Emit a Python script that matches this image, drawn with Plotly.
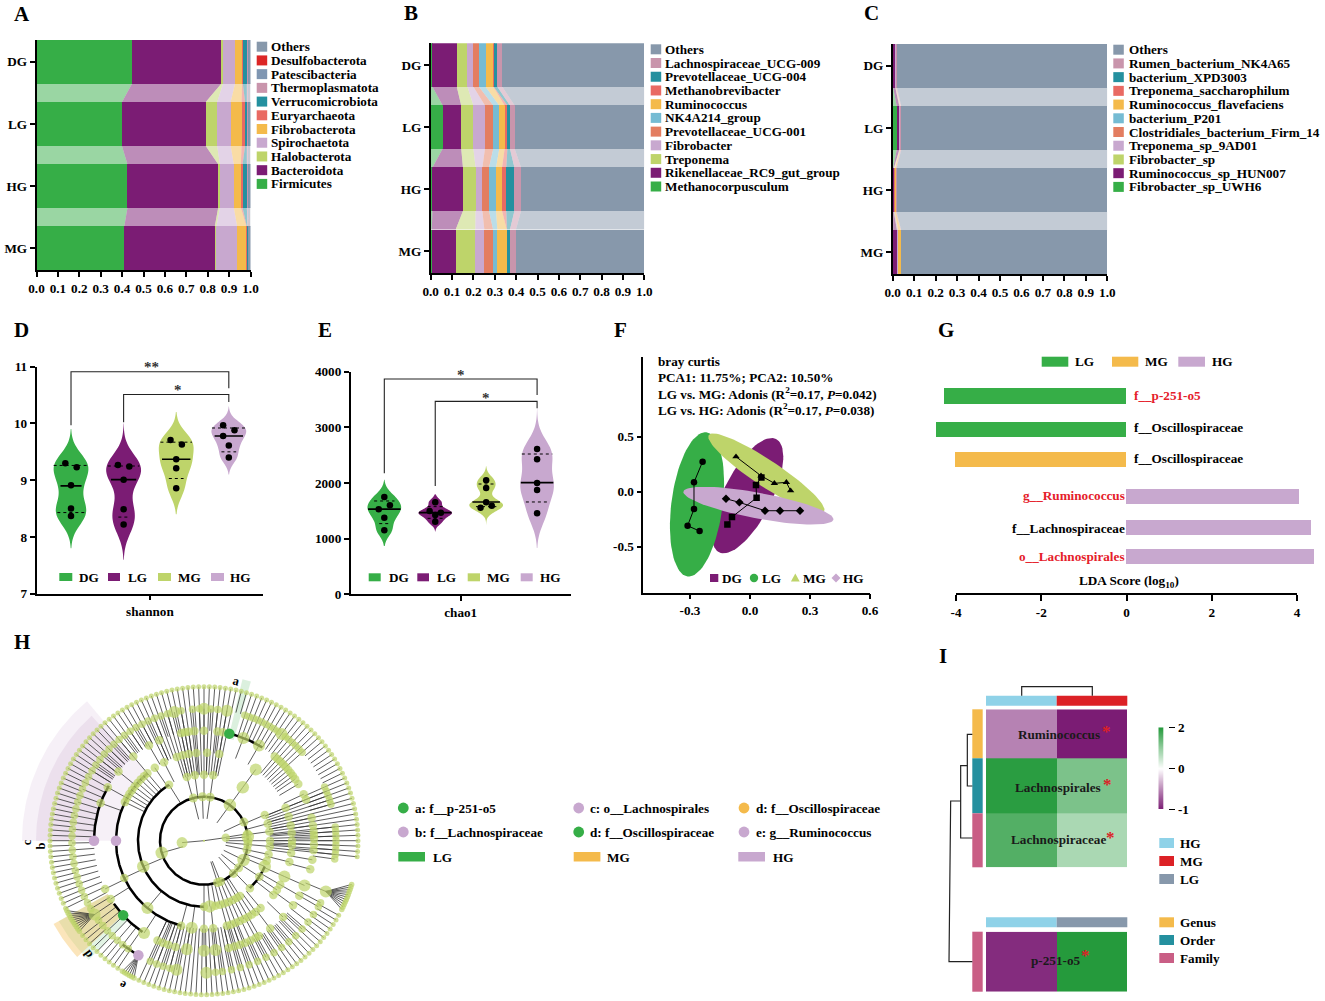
import numpy as np
import plotly.graph_objects as go

# ------------------------------------------------------------------ data
GROUPS = ["DG", "LG", "HG", "MG"]

A_NAMES = ["Firmicutes", "Bacteroidota", "Halobacterota", "Spirochaetota", "Fibrobacterota", "Euryarchaeota",
           "Verrucomicrobiota", "Thermoplasmatota", "Patescibacteria", "Desulfobacterota", "Others"]
A_FIRMICUTES = [.447, .399, .425, .410]
A_BACTEROIDOTA = [.417, .391, .424, .423]
A_HALOBACTEROTA = [.008, .054, .008, .008]
A_SPIROCHAETOTA = [.056, .063, .065, .097]
A_FIBROBACTEROTA = [.033, .051, .033, .043]
A_EURYARCHAEOTA = [.003, .017, .008, .002]
A_VERRUCO = [.019, .008, .020, .003]
A_THERMO = [.006, .006, .006, .003]
A_PATESCI = [.005, .005, .005, .003]
A_DESULFO = [.001, .001, .001, .002]
A_OTHERS = [.005, .005, .005, .006]

B_NAMES = ["Methanocorpusculum", "Rikenellaceae_RC9_gut_group", "Treponema", "Fibrobacter", "Prevotellaceae_UCG-001",
           "NK4A214_group", "Ruminococcus", "Methanobrevibacter", "Prevotellaceae_UCG-004", "Lachnospiraceae_UCG-009", "Others"]
B_METHANOCORP = [.008, .056, .008, .005]
B_RIKEN = [.114, .087, .143, .112]
B_TREPONEMA = [.050, .057, .059, .092]
B_FIBROBACTER = [.028, .054, .032, .042]
B_PREV001 = [.026, .039, .031, .041]
B_NK4A = [.031, .028, .033, .020]
B_RUMINO = [.036, .025, .028, .044]
B_METHANOBREV = [.002, .013, .020, .001]
B_PREV004 = [.017, .012, .038, .014]
B_LACHNO = [.023, .022, .031, .028]
B_OTHERS = [.665, .607, .577, .601]

C_NAMES = ["Fibrobacter_sp_UWH6", "Ruminococcus_sp_HUN007", "Fibrobacter_sp", "Treponema_sp_9AD01",
           "Clostridiales_bacterium_Firm_14", "bacterium_P201", "Ruminococcus_flavefaciens", "Treponema_saccharophilum",
           "bacterium_XPD3003", "Rumen_bacterium_NK4A65", "Others"]
C_UWH6 = [.002, .019, .002, .002]
C_HUN007 = [.010, .012, .003, .018]
C_FIBSP = [.001, .001, .002, .001]
C_9AD01 = [.002, .002, .002, .003]
C_FIRM14 = [.000, .000, .001, .001]
C_P201 = [.000, .000, .000, .001]
C_FLAVE = [.001, .002, .005, .012]
C_SACCH = [.000, .001, .001, .000]
C_XPD = [.000, .000, .000, .000]
C_NK4A65 = [.004, .003, .002, .002]
C_OTHERS = [.980, .960, .982, .960]

VIOLIN_GROUPS = ["DG", "LG", "MG", "HG"]
D_DG = [9.30, 9.23, 8.91, 8.50, 8.37]
D_LG = [9.27, 9.24, 9.01, 8.49, 8.22]
D_MG = [9.71, 9.63, 9.37, 9.21, 8.86]
D_HG = [9.97, 9.88, 9.78, 9.61, 9.40]
D_MED = [8.90, 9.01, 9.37, 9.78]
D_Q1 = [8.43, 8.35, 9.03, 9.50]
D_Q3 = [9.26, 9.25, 9.67, 9.92]

E_DG = [1749, 1599, 1527, 1377, 1150]
E_LG = [1653, 1497, 1467, 1425, 1305]
E_MG = [2048, 1910, 1653, 1593, 1557]
E_HG = [2611, 2425, 2000, 1874, 1455]
E_MED = [1530, 1467, 1659, 2006]
E_Q1 = [1270, 1365, 1575, 1659]
E_Q3 = [1677, 1575, 1982, 2521]

F_DG_X = [.057, .030, .033, -.090, -.113]
F_DG_Y = [.130, .061, -.055, -.230, -.297]
F_LG_X = [-.237, -.280, -.280, -.312, -.252]
F_LG_Y = [.273, .085, -.158, -.309, -.358]
F_MG_X = [-.070, .055, .122, .182, .203]
F_MG_Y = [.318, .145, .076, .085, .009]
F_HG_X = [-.120, -.053, .075, .150, .250]
F_HG_Y = [-.064, -.097, -.173, -.173, -.173]
# ellipse: centre, first and second conjugate semi-axis
F_ELL_DG = [(-.012, -.036), (.142, .515), (.108, -.098)]
F_ELL_LG = [(-.265, -.115), (.047, .655), (.127, -.030)]
F_ELL_MG = [(.082, .167), (.288, -.348), (.037, .100)]
F_ELL_HG = [(.042, -.127), (.375, -.127), (-.012, -.115)]

G_LG_LABELS = ["f__p-251-o5", "f__Oscillospiraceae"]
G_LG_VALUES = [-4.27, -4.46]
G_MG_LABELS = ["f__Oscillospiraceae"]
G_MG_VALUES = [-4.01]
G_HG_LABELS = ["g__Ruminococcus", "f__Lachnospiraceae", "o__Lachnospirales"]
G_HG_VALUES = [4.05, 4.33, 4.41]

I_ROWS = ["Ruminococcus", "Lachnospirales", "Lachnospiraceae"]
I_HG = [-0.55, 1.95, 1.58]
I_MG = [-1.0, 1.20, 0.78]
I2_ROW = ["p-251-o5"]
I2_HG = [-0.93]
I2_LG = [2.0]
I_BAR_LEVELS = [-1, -.9, -.8, -.7, -.6, -.5, -.4, -.3, -.2, -.1, 0, .2, .4, .6, .8, 1, 1.2, 1.4, 1.6, 1.8, 2]

# cladogram nodes: ring radius -> angle in degrees
H_LEAVES = [0, 2, 4, 6, 8, 10, 12, 14, 16, 18, 20, 22, 24, 26, 28, 30, 32, 34, 36, 38, 40, 42, 44, 46, 48, 50, 52, 54, 56, 58,
            60, 62, 64, 66, 68, 70, 72, 74, 76, 78, 80, 82, 84, 86, 88, 90, 92, 94, 96, 98, 100, 102, 104, 106, 108, 110, 112,
            114, 116, 118, 120, 122, 124, 126, 128, 130, 132, 134, 136, 138, 140, 142, 144, 146, 148, 150, 152, 154, 156, 158,
            160, 162, 164, 166, 168, 170, 172, 174, 176, 178, 180, 182, 184, 186, 188, 190, 192, 194, 196, 198, 200, 202, 204,
            206, 218, 220, 222, 224, 226, 228, 230, 232, 234, 236, 245, 247, 249, 251, 253, 255, 257, 259, 261, 263, 265, 267,
            269, 271, 273, 275, 277, 279, 281, 283, 285, 287, 289, 291, 293, 295, 297, 299, 301, 303, 305, 307, 309, 311, 313,
            315, 317, 319, 321, 323, 325, 327, 329, 331, 354, 356, 358]
H_SPOKE_ZONES = [(-1, 23, 66), (23, 60, 132), (60, 78, 132), (78, 108, 66), (108, 118, 88), (118, 150, 110), (150, 245, 132),
                 (245, 292, 88), (292, 320, 110), (320, 345, 132), (345, 361, 66)]
H_FANS = [(-22.6, [-26.5, -25.5, -24.5, -23.5, -22.5, -21.5, -20.5, -19.5, -18.5, -17.5, -16.5]),
          (214, [207, 208, 209, 210, 211, 212, 213, 214, 215, 216]),
          (240.2, [238, 239, 240, 241, 242, 243])]
H_R132 = [80, 84, 87, 90, 92, 95, 100, 103, 106, 109, 72, 70, 68, 66, 64, 62, 60, 58, 56, 54, 52, 50, 48, 46, 44, 42, 24, 22, 20, 18, 16,
          6, 4, 2, 0, -2, -4, -6, -8, -22.6, -28, -30, -34, -38, -42, -46, -50, -54, -58, -62, -66, -70, -74, -78, -82, -85, 271, 258, 255,
          252, 249, 246, 235, 232, 229, 226, 223, 220, 217, 214, 211, 208, 205, 202, 199, 196, 193, 190, 187, 184, 181, 178, 175, 172,
          169, 166, 163, 160, 157, 154, 151, 148, 145, 142, 139, 136, 133, 130, 127, 124, 121, 118, 115, 112]
H_R132_BIG = [103, 90, 80, 54, 271, 258, -22.6, 214]
H_R110 = [102, 100, 98, 95, 90, 83, 80, 69, 60, 50, 48, 46, 44, 42, 40, 38, 36, 34, 31, 25, 22, 12, 8, 5, 3, 1, -2, -5, -10, -15, -24, -30,
          -36, -44, 114, 120, 130, 141, 151, 160, 206, 212, 237, 245, 248, 251, 255, 261, 270, 276, 283, 286, 289, 292, 295, 298, 300, 307]
H_R110_BIG = [69, 60, -24, 237, 261, 270, 276]
H_R88 = [108, 104, 100, 95, 88, 80, 54, 117, 124, 130, 133, 136, 139, 142, 145, 148, 151, 154, 205, 230, 255, 262, 270, 276, 285, 288, 291,
         294, 297, 300, 303, 306, 310, 322, 326, 330, 336, 22, 16, 10, 5, 0, -3, -8, -14]
H_R88_BIG = [54, 230, 262, 336]
H_R66 = [105, 98, 90, 82, 54, 122, 203, -23, -33, -46, 23, 15, 8, 0, -5, -12, -18, 270, 275, 280, 284, 288, 292, 296, 300, 303]
H_R66_BIG = [54, 203, 275, -23]
H_R44 = [104, 92, 82, 54, 25, 9, 5, 0, -5, -12, -26, -38, -48, -68, -72, 196]
H_R44_BIG = [54, 196, 5, -26]
H_R22 = [8, 185]
H_R22_BIG = [185]
# highlighted nodes: ring radius, angle, colour key
H_MARKED = [(110, 76.7, "LG"), (110, 180, "HG"), (88, 180, "HG"), (110, 222.7, "LG"), (132, 240.2, "HG")]
H_ARCS = [(44, 0, 360), (66, 122, 270), (88, 130, 255), (110, 150, 180), (110, 215, 236), (110, 58, 76), (66, -46, -23), (132, 232, 240)]
H_WEDGES = [(88, 182, 130, 180, "HG", .17), (110, 168, 132, 180, "HG", .22), (105, 166, 73.6, 76.6, "LG", .18),
            (110, 166, 209, 226, "LG", .14), (110, 172, 209, 222.5, "MG", .38)]

H_LEGEND = ["a: f__p-251-o5", "b: f__Lachnospiraceae", "c: o__Lachnospirales", "d: f__Oscillospiraceae",
            "d: f__Oscillospiraceae", "e: g__Ruminococcus"]

# ------------------------------------------------------------------ style
W, H = 1325, 1001
FONT = "Liberation Serif"
FS = 13.2
GREEN, PURPLE, YGREEN, LILAC = "#36AE47", "#7B1C74", "#BED46A", "#C8A8CF"
ORANGE, SALMON, CORAL, SKY = "#F4BA4B", "#E96A63", "#E37D60", "#75BBD3"
TEAL, PINK, STEEL, RED, GREY = "#24909F", "#C995AC", "#7F96B2", "#DC2626", "#8798AB"
HCOL = {"LG": GREEN, "MG": ORANGE, "HG": LILAC}
A_COLORS = [GREEN, PURPLE, YGREEN, LILAC, ORANGE, SALMON, TEAL, PINK, STEEL, RED, GREY]
BC_COLORS = [GREEN, PURPLE, YGREEN, LILAC, CORAL, SKY, ORANGE, SALMON, TEAL, PINK, GREY]
V_COLORS = [GREEN, PURPLE, YGREEN, LILAC]

fig = go.Figure()
shapes, annots = [], []
layout = {}

def px(x): return x / W
def py(y): return 1 - y / H

def axes(n, xd, yd, xa=None, ya=None):
    base = dict(showline=True, linecolor="black", linewidth=1.5, ticks="outside", ticklen=5, tickwidth=1.5,
                tickcolor="black", zeroline=False, showgrid=False,
                tickfont=dict(family=FONT, size=FS, color="black", weight="bold"))
    s = "" if n == 1 else str(n)
    layout["xaxis" + s] = {**base, "domain": [px(xd[0]), px(xd[1])], "anchor": "y" + s, **(xa or {})}
    layout["yaxis" + s] = {**base, "domain": [py(yd[1]), py(yd[0])], "anchor": "x" + s, **(ya or {})}
    return ("x" + s, "y" + s)

HIDE = dict(visible=False)

def txt(x, y, t, size=FS, color="black", anchor="left", angle=0):
    annots.append(dict(xref="paper", yref="paper", x=px(x), y=py(y), text=t, showarrow=False, xanchor=anchor, yanchor="middle",
                       textangle=angle, borderpad=0, font=dict(family=FONT, size=size, color=color, weight="bold")))

def rect(x0, x1, y0, y1, color):
    shapes.append(dict(type="rect", xref="paper", yref="paper", x0=px(x0), x1=px(x1), y0=py(y0), y1=py(y1),
                       fillcolor=color, line=dict(width=0)))

def circ(xc, yc, r, color):
    shapes.append(dict(type="circle", xref="paper", yref="paper", x0=px(xc - r), x1=px(xc + r), y0=py(yc - r), y1=py(yc + r),
                       fillcolor=color, line=dict(width=0)))

def path(points, color=None, lw=0, close=True):
    d = "M" + " L".join(f"{px(a):.5f},{py(b):.5f}" for a, b in points) + (" Z" if close else "")
    s = dict(type="path", xref="paper", yref="paper", path=d, line=dict(width=lw, color="#222"))
    if color:
        s["fillcolor"] = color
    shapes.append(s)

def rgba(hexc, a):
    return f"rgba({int(hexc[1:3],16)},{int(hexc[3:5],16)},{int(hexc[5:7],16)},{a})"

# ------------------------------------------------------------------ A, B, C
def stacked(n, xd, yd, series, names, colors, lx, ltx, ly):
    xa, ya = axes(n, xd, yd,
                  dict(range=[0, 1], tickvals=[i / 10 for i in range(11)], ticktext=[f"{i/10:.1f}" for i in range(11)]),
                  dict(range=[3.35, -.35], tickvals=[0, 1, 2, 3], ticktext=GROUPS))
    arr = np.array(series, float)
    arr = arr / arr.sum(axis=0)
    cum = np.cumsum(arr, axis=0)
    rows = [0, 1, 2, 3]
    for j, (nm, col) in enumerate(zip(names, colors)):
        left = cum[j] - arr[j]
        right = cum[j]
        px_, py_ = [], []
        for i in rows[:-1]:
            px_ += [left[i], right[i], right[i + 1], left[i + 1], left[i], None]
            py_ += [i + .35, i + .35, i + .65, i + .65, i + .35, None]
        fig.add_trace(go.Scatter(x=px_, y=py_, mode="lines", fill="toself", fillcolor=rgba(col, .5), line=dict(width=0),
                                 xaxis=xa, yaxis=ya, showlegend=False, hoverinfo="skip"))
        fig.add_trace(go.Bar(y=rows, x=arr[j], base=left, width=.7, orientation="h", name=nm, marker=dict(color=col, line=dict(width=0)),
                             xaxis=xa, yaxis=ya, showlegend=False))
    for k, (nm, col) in enumerate(zip(names[::-1], colors[::-1])):
        y = ly + k * 13.72
        rect(lx, lx + 10.5, y - 5, y + 5, col)
        txt(ltx, y, nm)

stacked(1, (36.5, 250.5), (40, 270),
        [A_FIRMICUTES, A_BACTEROIDOTA, A_HALOBACTEROTA, A_SPIROCHAETOTA, A_FIBROBACTEROTA, A_EURYARCHAEOTA, A_VERRUCO,
         A_THERMO, A_PATESCI, A_DESULFO, A_OTHERS], A_NAMES, A_COLORS, 256.7, 270, 46.7)
stacked(2, (430.7, 644.3), (43.3, 273),
        [B_METHANOCORP, B_RIKEN, B_TREPONEMA, B_FIBROBACTER, B_PREV001, B_NK4A, B_RUMINO, B_METHANOBREV, B_PREV004, B_LACHNO, B_OTHERS],
        B_NAMES, BC_COLORS, 650.7, 664.3, 49.3)
stacked(3, (892.7, 1107.3), (44, 274),
        [C_UWH6, C_HUN007, C_FIBSP, C_9AD01, C_FIRM14, C_P201, C_FLAVE, C_SACCH, C_XPD, C_NK4A65, C_OTHERS],
        C_NAMES, BC_COLORS, 1113.3, 1127.5, 49.7)

# ------------------------------------------------------------------ D, E
def violins(n, xd, yd, xr, yr, yt, ytt, label, data, med, q1, q3, bws, spans, offs, hw, brackets):
    xa, ya = axes(n, xd, yd, dict(range=xr, tickvals=[1.5], ticktext=[label]), dict(range=yr, tickvals=yt, ticktext=ytt))
    for i, (vals, col, bw, sp) in enumerate(zip(data, V_COLORS, bws, spans)):
        fig.add_trace(go.Violin(y=vals, x0=i, name=VIOLIN_GROUPS[i], width=.66, bandwidth=bw, spanmode="manual", span=sp, points=False,
                                fillcolor=col, line=dict(width=0, color=col), opacity=1, box_visible=False, meanline_visible=False,
                                xaxis=xa, yaxis=ya, showlegend=False, hoverinfo="skip"))
    for i, vals in enumerate(data):
        for val, h_, dash, lw in ((q1[i], hw[1][i], "dot", 1), (q3[i], hw[2][i], "dot", 1), (med[i], hw[0][i], "solid", 1.6)):
            fig.add_trace(go.Scatter(x=[i - h_, i + h_], y=[val, val], mode="lines", line=dict(color="black", width=lw, dash=dash),
                                     xaxis=xa, yaxis=ya, showlegend=False, hoverinfo="skip"))
        fig.add_trace(go.Scatter(x=[i + o for o in offs[i]], y=vals, mode="markers", marker=dict(color="black", size=6.5),
                                 xaxis=xa, yaxis=ya, showlegend=False, name=VIOLIN_GROUPS[i]))
    for b in brackets:
        fig.add_trace(go.Scatter(x=[b[0], b[0], 3, 3], y=[b[1], b[2], b[2], b[3]], mode="lines", line=dict(color="#222", width=1.1),
                                 xaxis=xa, yaxis=ya, showlegend=False, hoverinfo="skip"))

O = .108
violins(4, (36.5, 263), (366.7, 593.7), [-.656, 3.65], [7, 11], [7, 8, 9, 10, 11], ["7", "8", "9", "10", "11"], "shannon",
        [D_DG, D_LG, D_MG, D_HG], D_MED, D_Q1, D_Q3, [.22, .24, .19, .12],
        [[7.8, 9.9], [7.6, 10.0], [8.4, 10.2], [9.1, 10.3]],
        [[-O, O, 0, 0, 0], [-O, O, 0, 0, 0], [-O, O, 0, 0, 0], [-O, O, -O, 0, 0]],
        ([.20, .24, .27, .27], [.26, .10, .14, .14], [.33, .30, .30, .32]),
        [(0, 9.97, 10.91, 10.62), (1, 10.02, 10.51, 10.38)])
txt(151, 366.5, "**", 15, "#333", "center")
txt(178, 390, "*", 15, "#333", "center")

O2 = .11
violins(5, (350.7, 570.7), (371.7, 594.3), [-.66, 3.66], [0, 4000], [0, 1000, 2000, 3000, 4000], ["0", "1000", "2000", "3000", "4000"], "chao1",
        [E_DG, E_LG, E_MG, E_HG], E_MED, E_Q1, E_Q3, [120, 65, 95, 240],
        [[870, 2060], [1130, 1800], [1250, 2300], [830, 3350]],
        [[0, O2, -O2, 0, 0], [0, -O2, O2, 0, 0], [0, 0, 0, O2, -O2], [0, 0, 0, 0, 0]],
        ([.32, .32, .27, .32], [.10, .15, .20, .22], [.20, .15, .15, .30]),
        [(0, 2174, 3868, 3581), (1, 1946, 3467, 3341)])
txt(461, 375, "*", 15, "#333", "center")
txt(486, 397.5, "*", 15, "#333", "center")

for (x0, x1, tx), nm, col in zip([(59.3, 72.3, 78.3), (108, 120, 126.7), (158, 171, 177), (211, 224, 229)], VIOLIN_GROUPS, V_COLORS):
    rect(x0, x1, 573, 581, col)
    txt(tx, 577, nm)
for (x0, x1, tx), nm, col in zip([(368.7, 380.7, 388), (417.3, 429, 436), (467.7, 480, 486.3), (520.7, 532.7, 539)], VIOLIN_GROUPS, V_COLORS):
    rect(x0, x1, 573.3, 581.3, col)
    txt(tx, 577.3, nm)

# ------------------------------------------------------------------ F
xa, ya = axes(6, (643.3, 870), (356.7, 592.7),
              dict(range=[-.5335, .6], tickvals=[-.3, 0, .3, .6], ticktext=["-0.3", "0.0", "0.3", "0.6"]),
              dict(range=[-.918, 1.227], tickvals=[-.5, 0, .5], ticktext=["-0.5", "0.0", "0.5"]))
T = np.radians(np.arange(0, 361, 4))
for ell, col in ((F_ELL_DG, PURPLE), (F_ELL_LG, GREEN), (F_ELL_MG, YGREEN), (F_ELL_HG, LILAC)):
    c, u, v = ell
    fig.add_trace(go.Scatter(x=c[0] + u[0] * np.cos(T) + v[0] * np.sin(T), y=c[1] + u[1] * np.cos(T) + v[1] * np.sin(T),
                             mode="lines", fill="toself", fillcolor=col, line=dict(width=0, color=col), xaxis=xa, yaxis=ya,
                             showlegend=False, hoverinfo="skip"))
for nm, xs, ys, sym in (("DG", F_DG_X, F_DG_Y, "square"), ("LG", F_LG_X, F_LG_Y, "circle"),
                        ("MG", F_MG_X, F_MG_Y, "triangle-up"), ("HG", F_HG_X, F_HG_Y, "diamond")):
    fig.add_trace(go.Scatter(x=xs, y=ys, mode="lines+markers", name=nm, line=dict(color="black", width=1),
                             marker=dict(color="black", size=6.5, symbol=sym), xaxis=xa, yaxis=ya, showlegend=False))
txt(656.7, 361.5, "bray curtis")
txt(656.7, 377.5, "PCA1: 11.75%; PCA2: 10.50%")
txt(656.7, 393.5, "LG vs. MG: Adonis (R<sup>2</sup>=0.17, <i>P</i>=0.042)")
txt(656.7, 409.5, "LG vs. HG: Adonis (R<sup>2</sup>=0.17, <i>P</i>=0.038)")
rect(710, 718.3, 574, 582, PURPLE)
txt(721, 578, "DG")
circ(754, 578, 4.2, GREEN)
txt(761, 578, "LG")
path([(795.3, 573.5), (799.7, 581.5), (790.9, 581.5)], YGREEN)
txt(802.3, 578, "MG")
path([(836, 573.5), (840.5, 578), (836, 582.5), (831.5, 578)], LILAC)
txt(842.3, 578, "HG")

# ------------------------------------------------------------------ G
U = 42.65
G_SLOTS = [0, 1.03, 1.98, 3.13, 4.09, 5.0]
xa, ya = axes(7, (930, 1320), (380, 593.3), dict(range=[(930 - 1126) / U, (1320 - 1126) / U], **HIDE),
              dict(range=[(593.3 - 396) / 32.1, (380 - 396) / 32.1], **HIDE))
for vals, labs, slots, nm, col in ((G_LG_VALUES, G_LG_LABELS, G_SLOTS[:2], "LG", GREEN),
                                   (G_MG_VALUES, G_MG_LABELS, G_SLOTS[2:3], "MG", ORANGE),
                                   (G_HG_VALUES, G_HG_LABELS, G_SLOTS[3:], "HG", LILAC)):
    fig.add_trace(go.Bar(x=vals, y=slots, orientation="h", width=.47, name=nm, marker=dict(color=col, line=dict(width=0)),
                         hovertext=labs, xaxis=xa, yaxis=ya, showlegend=False))
xa2, ya2 = axes(8, (956, 1297), (380, 593.3), dict(range=[-4, 4], tickvals=[-4, -2, 0, 2, 4], ticktext=["-4", "-2", "0", "2", "4"], ticklen=6),
                dict(range=[0, 1], **HIDE))
fig.add_trace(go.Scatter(x=[-4, 4], y=[0, 0], mode="lines", line=dict(width=0), xaxis=xa2, yaxis=ya2, showlegend=False, hoverinfo="skip"))
RED_TXT = "#E5202A"
txt(1133.3, 396, "f__p-251-o5", color=RED_TXT)
txt(1133.3, 427, "f__Oscillospiraceae")
txt(1133.3, 458, "f__Oscillospiraceae")
txt(1126, 495, "g__Ruminococcus", color=RED_TXT, anchor="right")
txt(1126, 528, "f__Lachnospiraceae", anchor="right")
txt(1126, 556.5, "o__Lachnospirales", color=RED_TXT, anchor="right")
txt(1129.3, 581.7, "LDA Score (log<sub>10</sub>)", anchor="center")
for x0, x1, tx, nm, col in ((1041.7, 1068.3, 1074, "LG", GREEN), (1112, 1138.3, 1143.7, "MG", ORANGE), (1178.3, 1205, 1211, "HG", LILAC)):
    rect(x0, x1, 356.7, 366.7, col)
    txt(tx, 361.7, nm)

# ------------------------------------------------------------------ H
xa, ya = axes(9, (14, 394), (650, 1001), dict(range=[-190, 190], **HIDE), dict(range=[-160.3, 190.7], **HIDE))
def pol(r, a):
    t = np.radians(np.asarray(a, float))
    return r * np.cos(t), r * np.sin(t)

for r0, r1, a0, a1, key, op in H_WEDGES:
    t = np.linspace(a0, a1, 40)
    x1_, y1_ = pol(r1, t)
    x0_, y0_ = pol(r0, t[::-1])
    fig.add_trace(go.Scatter(x=np.r_[x1_, x0_], y=np.r_[y1_, y0_], mode="lines", fill="toself", fillcolor=rgba(HCOL[key], op),
                             line=dict(width=0), xaxis=xa, yaxis=ya, showlegend=False, hoverinfo="skip"))
sx, sy = [], []
def seg(r0, a0, r1, a1):
    p0, p1 = pol(r0, a0), pol(r1, a1)
    sx.extend([p0[0], p1[0], None])
    sy.extend([p0[1], p1[1], None])
for a in H_LEAVES:
    b = ((a + 1) % 360) - 1
    rin = next(z[2] for z in H_SPOKE_ZONES if z[0] <= b < z[1])
    seg(rin, a, 154, a)
for par, lv in H_FANS:
    for a in lv:
        seg(132, par, 154, a)
for r, ring in ((132, H_R132), (110, H_R110), (88, H_R88), (66, H_R66), (44, H_R44), (22, H_R22)):
    for a in ring:
        seg(r - 22, a, r, a)
fig.add_trace(go.Scatter(x=sx, y=sy, mode="lines", line=dict(color="#333", width=.8), xaxis=xa, yaxis=ya, showlegend=False, hoverinfo="skip"))
ax, ay = [], []
for r, a0, a1 in H_ARCS:
    t = np.linspace(a0, a1, max(2, int(abs(a1 - a0))))
    xx, yy = pol(r, t)
    ax += list(xx) + [None]
    ay += list(yy) + [None]
fig.add_trace(go.Scatter(x=ax, y=ay, mode="lines", line=dict(color="black", width=2.5), xaxis=xa, yaxis=ya, showlegend=False, hoverinfo="skip"))
for r, ring, big, s0, s1 in ((154, H_LEAVES, [], 5, 5), (154, sum([f[1] for f in H_FANS], []), [], 5.5, 5.5),
                             (132, H_R132, H_R132_BIG, 7.5, 12), (110, H_R110, H_R110_BIG, 8.5, 12),
                             (88, H_R88, H_R88_BIG, 8.5, 12), (66, H_R66, H_R66_BIG, 8.5, 12.5), (44, H_R44, H_R44_BIG, 9, 12.5),
                             (22, H_R22, H_R22_BIG, 8.5, 11)):
    xx, yy = pol(r, ring)
    fig.add_trace(go.Scatter(x=xx, y=yy, mode="markers", marker=dict(color=YGREEN, size=[s1 if a in big else s0 for a in ring], line=dict(width=0)),
                             xaxis=xa, yaxis=ya, showlegend=False, hoverinfo="skip"))
fig.add_trace(go.Scatter(x=[0], y=[0], mode="markers", marker=dict(color=YGREEN, size=2), xaxis=xa, yaxis=ya, showlegend=False, hoverinfo="skip"))
for r, a, key in H_MARKED:
    xx, yy = pol(r, [a])
    fig.add_trace(go.Scatter(x=xx, y=yy, mode="markers", marker=dict(color=HCOL[key], size=10.5, line=dict(width=0)),
                             xaxis=xa, yaxis=ya, showlegend=False, hoverinfo="skip"))
txt(236, 681, "a", 12.5, anchor="center", angle=14)
txt(27.3, 842, "c", 12.5, anchor="center", angle=-90)
txt(40.7, 845.7, "b", 12.5, anchor="center", angle=-90)
txt(88.3, 954.3, "d", 12.5, anchor="center", angle=-126)
txt(122.7, 985, "e", 12.5, anchor="center", angle=-150)

for (cx, tx, y, key), t in zip([(403.3, 414.3, 808, "LG"), (403.3, 414.3, 832, "HG"), (578.7, 589.3, 808, "HG"),
                                (744, 754.7, 808, "MG"), (578.7, 589.3, 832, "LG"), (744, 754.7, 832, "HG")], H_LEGEND):
    circ(cx, y, 5.4, HCOL[key])
    txt(tx, y, t)
for x0, tx, key in ((398.3, 431.7, "LG"), (573.7, 606, "MG"), (738.3, 771.7, "HG")):
    rect(x0, x0 + 26.7, 852, 861.5, HCOL[key])
    txt(tx, 857, key)

# ------------------------------------------------------------------ I
HEAT = [[0, PURPLE], [1 / 3, "#FFFFFF"], [1, "#259A3C"]]
xa, ya = axes(10, (986, 1127.3), (709.3, 867.3), dict(range=[0, 2], **HIDE), dict(range=[158, 0], **HIDE))
fig.add_trace(go.Heatmap(z=[[a, b] for a, b in zip(I_HG, I_MG)], x=[0, 1, 2], y=[0, 49, 104, 158], zmin=-1, zmax=2, colorscale=HEAT,
                         showscale=False, xaxis=xa, yaxis=ya))
xa, ya = axes(11, (986, 1127.3), (931.7, 991.7), dict(range=[0, 2], **HIDE), dict(range=[1, 0], **HIDE))
fig.add_trace(go.Heatmap(z=[[I2_HG[0], I2_LG[0]]], x=[0, 1, 2], y=[0, 1], zmin=-1, zmax=2, colorscale=HEAT, showscale=False, xaxis=xa, yaxis=ya))
xa, ya = axes(12, (1158.3, 1168.3), (727.3, 809), dict(range=[0, 1], **HIDE),
              dict(range=[0, 20], side="right", tickvals=[0, 10, 20], ticktext=["-1", "0", "2"], ticklen=6, showline=False, tickwidth=1.2))
fig.add_trace(go.Heatmap(z=[[v] for v in I_BAR_LEVELS], zmin=-1, zmax=2, colorscale=HEAT,
                         showscale=False, xaxis=xa, yaxis=ya, zsmooth="best"))

SKY2, IRED = "#8FD2E8", "#DC2126"
rect(986, 1056.7, 695.7, 705.7, SKY2)
rect(1056.7, 1127.3, 695.7, 705.7, IRED)
rect(986, 1056.7, 917.3, 927.3, SKY2)
rect(1056.7, 1127.3, 917.3, 927.3, GREY)
rect(972.3, 982.7, 709.3, 758.3, ORANGE)
rect(972.3, 982.7, 758.3, 813.3, TEAL)
rect(972.3, 982.7, 813.3, 867.3, "#C95E85")
rect(972.3, 982.7, 931.7, 991.7, "#C95E85")
path([(1021.7, 695.7), (1021.7, 686.7), (1092.3, 686.7), (1092.3, 695.7)], None, 1.2, False)
def z(xz, yz): return (930 + xz / 3, 640 + yz / 3)
path([z(127, 283), z(112, 283), z(112, 438), z(127, 438)], None, 1.2, False)
path([z(112, 377), z(92, 377), z(92, 594), z(127, 594)], None, 1.2, False)
path([z(92, 483), z(62, 483), z(57, 965), z(127, 965)], None, 1.2, False)
txt(1059, 734, I_ROWS[0], anchor="center", color="#1a1a1a")
txt(1057.7, 787, I_ROWS[1], anchor="center", color="#1a1a1a")
txt(1058.3, 839.5, I_ROWS[2], anchor="center", color="#1a1a1a")
txt(1055, 960, I2_ROW[0], anchor="center", color="#1a1a1a")
for x, y in ((1106.7, 731.5), (1107, 784.5), (1110.7, 837.5), (1085.7, 955.5)):
    txt(x, y, "*", 17, "#DC2126", "center")
for y, nm, col in ((843, "HG", SKY2), (861, "MG", IRED), (879, "LG", GREY), (922.3, "Genus", ORANGE), (940, "Order", TEAL), (958, "Family", "#C95E85")):
    rect(1159.3, 1174, y - 5, y + 5, col)
    txt(1178.7, y, nm)

# ------------------------------------------------------------------ panel letters
for x, y, t in ((13, 14, "A"), (402.7, 13, "B"), (863.3, 13, "C"), (13, 330, "D"), (316.7, 330, "E"), (613.3, 330, "F"),
                (936.7, 329.5, "G"), (13, 642.3, "H"), (938.3, 656, "I")):
    txt(x, y, t, 21)

fig.update_layout(width=W, height=H, autosize=False, margin=dict(l=0, r=0, t=0, b=0, pad=0, autoexpand=False), paper_bgcolor="white", plot_bgcolor="rgba(0,0,0,0)",
                  barmode="stack", violinmode="overlay", showlegend=False, shapes=shapes, annotations=annots,
                  font=dict(family=FONT, color="black"), **layout)
fig.write_html("out.html", config=dict(displayModeBar=False),
               post_script="document.body.style.margin='0';document.documentElement.style.overflow='hidden';")
